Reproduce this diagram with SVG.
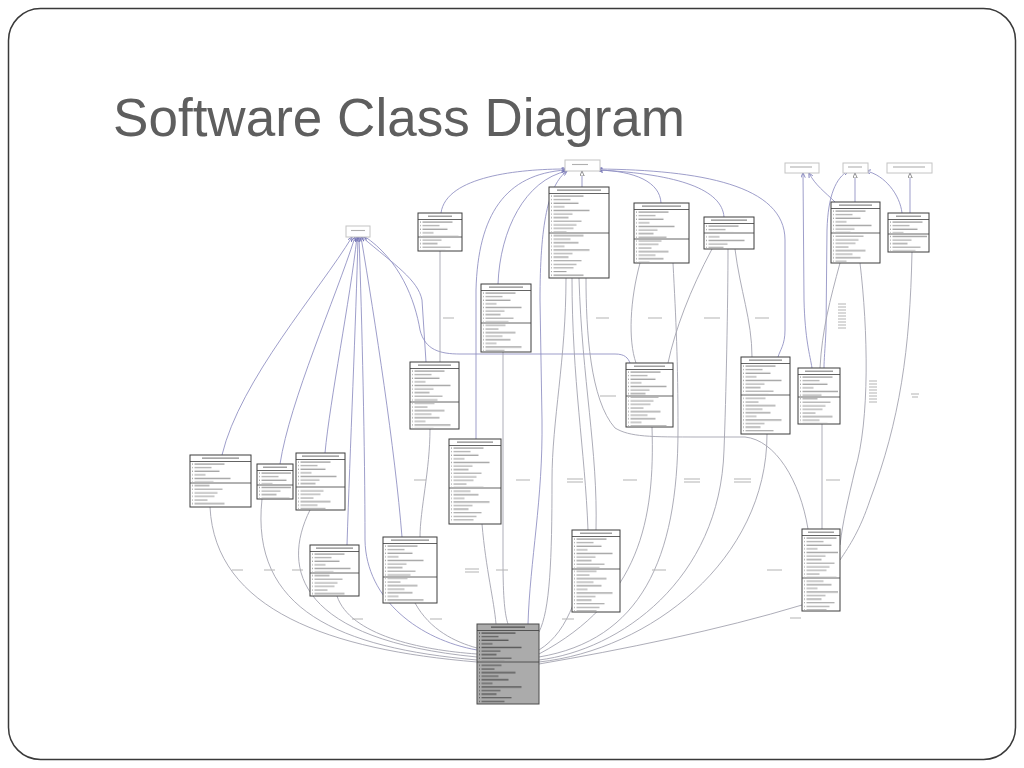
<svg xmlns="http://www.w3.org/2000/svg" width="1024" height="768" viewBox="0 0 1024 768">
<defs>
<style>
.frame{fill:#fff;stroke:#3a3a3a;stroke-width:1.5}
.title{font-family:"Liberation Sans","Open Sans",sans-serif;font-size:54px;fill:#5e5e5e}
.box{fill:#fff;stroke:#3c3c3c;stroke-width:1}
.mainbox{fill:#ababab;stroke:#4a4a4a;stroke-width:1}
.sep{fill:none;stroke:#3c3c3c;stroke-width:0.8}
.hd{fill:none;stroke:#8a8a8a;stroke-width:1.2}
.hdd{fill:none;stroke:#505050;stroke-width:1.2}
.node{fill:#fff;stroke:#c4c4c4;stroke-width:1}
.nodet{fill:none;stroke:#b0b0b0;stroke-width:1.1}
.c{fill:none;stroke:#a4a4b0;stroke-width:0.9}
.cb{fill:none;stroke:#8c8cc0;stroke-width:0.85}
.lbl{fill:none;stroke:#b4b4b4;stroke-width:1.2}
</style>
<pattern id="tx" patternUnits="userSpaceOnUse" width="80" height="39.6">
<path d="M1,1.8h2m1.5,0h20M1,5.4h2m1.5,0h13M1,9h2m1.5,0h30M1,12.6h2m1.5,0h17M1,16.2h2m1.5,0h25M1,19.8h2m1.5,0h11M1,23.4h2m1.5,0h36M1,27h2m1.5,0h19M1,30.6h2m1.5,0h15M1,34.2h2m1.5,0h28M1,37.8h2m1.5,0h23" fill="none" stroke="#979797" stroke-width="1.1"/>
</pattern>
<pattern id="txd" patternUnits="userSpaceOnUse" width="80" height="39.6">
<path d="M1,1.8h2m1.5,0h20M1,5.4h2m1.5,0h13M1,9h2m1.5,0h34M1,12.6h2m1.5,0h17M1,16.2h2m1.5,0h27M1,19.8h2m1.5,0h11M1,23.4h2m1.5,0h40M1,27h2m1.5,0h19M1,30.6h2m1.5,0h15M1,34.2h2m1.5,0h30M1,37.8h2m1.5,0h23" fill="none" stroke="#4c4c4c" stroke-width="1.1"/>
</pattern>
<marker id="ar" viewBox="0 0 8 8" refX="7.5" refY="4" markerWidth="5" markerHeight="5" orient="auto-start-reverse" markerUnits="userSpaceOnUse">
<path d="M0,0.5 L8,4 L0,7.5" fill="none" stroke="#6a6ab0" stroke-width="1.2"/>
</marker>
<marker id="tri" viewBox="0 0 8 8" refX="8" refY="4" markerWidth="5" markerHeight="5" orient="auto-start-reverse" markerUnits="userSpaceOnUse">
<path d="M0,0.5 L8,4 L0,7.5 Z" fill="#fff" stroke="#555" stroke-width="1"/>
</marker>
</defs>

<rect class="frame" x="8.5" y="8.5" width="1007" height="751" rx="32"/>
<text class="title" x="113" y="136" textLength="572" lengthAdjust="spacingAndGlyphs">Software Class Diagram</text>

<g id="connectors">
<path class="cb" marker-start="url(#ar)" d="M566,169 C520,169 446,176 441,213"/>
<path class="cb" marker-start="url(#ar)" d="M566,170 C505,174 478,215 476,290 L476,439"/>
<path class="cb" marker-start="url(#ar)" d="M567,171 C525,180 500,230 498,284"/>
<path class="cb" marker-start="url(#ar)" d="M567,171 C548,185 540,225 540,300 L542,420 C543,500 530,560 528,624"/>
<path class="cb" marker-start="url(#tri)" d="M582,171 L582,187"/>
<path class="cb" marker-start="url(#ar)" d="M598,170 C635,171 660,182 661,203"/>
<path class="cb" marker-start="url(#ar)" d="M598,170 C680,174 722,190 724,217"/>
<path class="cb" marker-start="url(#ar)" d="M598,169 C700,170 785,185 785,240 L785,330 C785,345 780,350 778,357"/>
<path class="cb" marker-start="url(#ar)" d="M352,237 C320,290 240,380 222,455"/>
<path class="cb" marker-start="url(#ar)" d="M355,237 C335,300 290,400 280,464"/>
<path class="cb" marker-start="url(#ar)" d="M357,237 C350,300 330,400 325,453"/>
<path class="cb" marker-start="url(#ar)" d="M358,237 C356,320 350,450 347,545"/>
<path class="cb" marker-start="url(#ar)" d="M359,237 C362,320 365,450 365,540 C366,600 420,640 477,650"/>
<path class="cb" marker-start="url(#ar)" d="M361,237 C375,320 395,450 402,537"/>
<path class="cb" marker-start="url(#ar)" d="M362,237 C395,265 418,280 422,300 L426,362"/>
<path class="cb" marker-start="url(#ar)" d="M364,236 C400,260 415,300 420,330 C425,350 440,354 460,354 L615,354 C625,354 628,358 630,363"/>
<path class="cb" marker-start="url(#ar)" d="M803,173 L804,300 C805,340 810,355 812,368"/>
<path class="cb" marker-start="url(#ar)" d="M809,173 C815,185 825,192 835,202"/>
<path class="cb" marker-start="url(#tri)" d="M855,173 L855,202"/>
<path class="cb" marker-start="url(#ar)" d="M848,171 C836,178 828,195 827,230 L826,330 C825,350 824,360 824,368"/>
<path class="cb" marker-start="url(#ar)" d="M866,171 C885,175 900,195 902,213"/>
<path class="cb" marker-start="url(#tri)" d="M910,173 L910,213"/>
<path class="c" d="M440,251 L440,362"/>
<path class="c" d="M430,429 C430,470 420,510 420,537"/>
<path class="c" d="M503,352 L503,560 C503,600 505,615 508,624"/>
<path class="c" d="M482,524 C486,570 494,600 496,624"/>
<path class="c" d="M566,278 C566,360 552,420 552,480 C552,560 550,610 539,632"/>
<path class="c" d="M572,278 C572,380 585,450 588,530"/>
<path class="c" d="M579,278 C582,380 598,450 596,530"/>
<path class="c" d="M586,278 C586,330 590,400 615,428 C630,437 650,437 700,437 L745,437 C775,440 800,480 808,529"/>
<path class="c" d="M640,263 C630,300 628,340 636,363"/>
<path class="c" d="M712,249 C690,290 675,330 668,363"/>
<path class="c" d="M735,249 C740,290 752,320 752,357"/>
<path class="c" d="M822,424 L822,529"/>
<path class="c" d="M840,263 C830,300 822,330 820,368"/>
<path class="c" d="M860,263 C868,330 870,420 855,470 C848,500 843,520 840,545"/>
<path class="c" d="M912,252 C910,350 900,420 870,500 C860,530 850,545 840,560"/>
<path class="c" d="M210,507 C215,610 330,650 477,662"/>
<path class="c" d="M262,499 C250,610 340,648 477,660"/>
<path class="c" d="M310,510 C280,570 300,640 477,657"/>
<path class="c" d="M337,596 C350,635 420,650 477,654"/>
<path class="c" d="M415,603 C430,630 455,642 477,648"/>
<path class="c" d="M573,605 C565,625 555,640 539,650"/>
<path class="c" d="M652,427 C655,520 640,600 539,654"/>
<path class="c" d="M673,263 C676,320 678,360 678,430 C678,560 640,640 539,657"/>
<path class="c" d="M728,249 C728,300 726,400 724,450 C720,580 620,650 539,660"/>
<path class="c" d="M767,434 C767,560 650,650 539,662"/>
<path class="c" d="M802,605 C720,630 620,650 539,664"/>
<path class="lbl" d="M443,318h11M596,318h13M648,318h14M704,318h16M755,318h14M600,396h16M838,304h8M838,307h8M838,310h8M838,313h8M838,316h8M838,319h8M838,322h8M838,325h8M838,328h8M869,381h8M869,384h8M869,387h8M869,390h8M869,393h8M869,396h8M869,399h8M869,402h8M911,394h8M912,397h6M414,480h12M516,480h14M567,479h16M567,482h16M232,570h11M264,570h11M292,570h11M465,569h14M465,572h14M496,570h12M352,619h11M430,619h12M562,619h12M623,480h14M684,479h16M684,482h16M734,479h17M734,482h17M826,480h14M652,570h14M767,570h15M790,618h11"/>
</g>

<g id="N0"><rect class="node" x="565" y="160" width="35" height="11"/><path class="nodet" d="M572,164.5h16"/></g>
<g id="N1"><rect class="node" x="346" y="226" width="24" height="11"/><path class="nodet" d="M351,230.5h14"/></g>
<g id="N2"><rect class="node" x="785" y="163" width="34" height="10"/><path class="nodet" d="M790,167h22"/></g>
<g id="N3"><rect class="node" x="843" y="163" width="25" height="10"/><path class="nodet" d="M848,167h14"/></g>
<g id="N4"><rect class="node" x="887" y="163" width="45" height="10"/><path class="nodet" d="M893,167h32"/></g>

<g id="A" transform="translate(418,213)"><rect class="box" width="44" height="38"/><path class="hd" d="M10,3.2h24"/><path class="sep" d="M0,6.5h44M0,24h44"/><rect x="2" y="7.5" width="40" height="15.5" fill="url(#tx)"/><rect x="2" y="25" width="40" height="12" fill="url(#tx)"/></g>
<g id="B" transform="translate(549,187)"><rect class="box" width="60" height="91"/><path class="hd" d="M8,3.2h44"/><path class="sep" d="M0,6.5h60M0,46h60"/><rect x="2" y="7.5" width="56" height="37.5" fill="url(#tx)"/><rect x="2" y="47" width="56" height="43" fill="url(#tx)"/></g>
<g id="C" transform="translate(634,203)"><rect class="box" width="55" height="60"/><path class="hd" d="M8,3.2h39"/><path class="sep" d="M0,6.5h55M0,36h55"/><rect x="2" y="7.5" width="51" height="27.5" fill="url(#tx)"/><rect x="2" y="37" width="51" height="22" fill="url(#tx)"/></g>
<g id="D" transform="translate(704,217)"><rect class="box" width="50" height="32"/><path class="hd" d="M7,3.2h36"/><path class="sep" d="M0,6.5h50M0,16h50"/><rect x="2" y="7.5" width="46" height="7.5" fill="url(#tx)"/><rect x="2" y="17" width="46" height="14" fill="url(#tx)"/></g>
<g id="E" transform="translate(831,202)"><rect class="box" width="49" height="61"/><path class="hd" d="M8,3.2h33"/><path class="sep" d="M0,6.5h49M0,31h49"/><rect x="2" y="7.5" width="45" height="22.5" fill="url(#tx)"/><rect x="2" y="32" width="45" height="28" fill="url(#tx)"/></g>
<g id="F" transform="translate(888,213)"><rect class="box" width="41" height="39"/><path class="hd" d="M8,3.2h25"/><path class="sep" d="M0,6.5h41M0,21h41"/><rect x="2" y="7.5" width="37" height="12.5" fill="url(#tx)"/><rect x="2" y="22" width="37" height="16" fill="url(#tx)"/></g>
<g id="G" transform="translate(481,284)"><rect class="box" width="50" height="68"/><path class="hd" d="M8,3.2h34"/><path class="sep" d="M0,6.5h50M0,39h50"/><rect x="2" y="7.5" width="46" height="30.5" fill="url(#tx)"/><rect x="2" y="40" width="46" height="27" fill="url(#tx)"/></g>
<g id="H" transform="translate(410,362)"><rect class="box" width="49" height="67"/><path class="hd" d="M8,3.2h33"/><path class="sep" d="M0,6.5h49M0,40h49"/><rect x="2" y="7.5" width="45" height="31.5" fill="url(#tx)"/><rect x="2" y="41" width="45" height="25" fill="url(#tx)"/></g>
<g id="I" transform="translate(626,363)"><rect class="box" width="47" height="64"/><path class="hd" d="M8,3.2h31"/><path class="sep" d="M0,6.5h47M0,33h47"/><rect x="2" y="7.5" width="43" height="24.5" fill="url(#tx)"/><rect x="2" y="34" width="43" height="29" fill="url(#tx)"/></g>
<g id="J" transform="translate(741,357)"><rect class="box" width="49" height="77"/><path class="hd" d="M8,3.2h33"/><path class="sep" d="M0,6.5h49M0,38h49"/><rect x="2" y="7.5" width="45" height="29.5" fill="url(#tx)"/><rect x="2" y="39" width="45" height="37" fill="url(#tx)"/></g>
<g id="K" transform="translate(798,368)"><rect class="box" width="42" height="56"/><path class="hd" d="M7,3.2h28"/><path class="sep" d="M0,6.5h42M0,29h42"/><rect x="2" y="7.5" width="38" height="20.5" fill="url(#tx)"/><rect x="2" y="30" width="38" height="25" fill="url(#tx)"/></g>
<g id="L" transform="translate(190,455)"><rect class="box" width="61" height="52"/><path class="hd" d="M12,3.2h37"/><path class="sep" d="M0,6.5h61M0,28h61"/><rect x="2" y="7.5" width="57" height="19.5" fill="url(#tx)"/><rect x="2" y="29" width="57" height="22" fill="url(#tx)"/></g>
<g id="M" transform="translate(257,464)"><rect class="box" width="36" height="35"/><path class="hd" d="M6,3.2h24"/><path class="sep" d="M0,6.5h36M0,21h36"/><rect x="2" y="7.5" width="32" height="12.5" fill="url(#tx)"/><rect x="2" y="22" width="32" height="12" fill="url(#tx)"/></g>
<g id="N" transform="translate(296,453)"><rect class="box" width="49" height="57"/><path class="hd" d="M6,3.2h37"/><path class="sep" d="M0,6.5h49M0,34h49"/><rect x="2" y="7.5" width="45" height="25.5" fill="url(#tx)"/><rect x="2" y="35" width="45" height="21" fill="url(#tx)"/></g>
<g id="O" transform="translate(449,439)"><rect class="box" width="52" height="85"/><path class="hd" d="M8,3.2h36"/><path class="sep" d="M0,6.5h52M0,49h52"/><rect x="2" y="7.5" width="48" height="40.5" fill="url(#tx)"/><rect x="2" y="50" width="48" height="34" fill="url(#tx)"/></g>
<g id="P" transform="translate(310,545)"><rect class="box" width="49" height="51"/><path class="hd" d="M6,3.2h37"/><path class="sep" d="M0,6.5h49M0,28h49"/><rect x="2" y="7.5" width="45" height="19.5" fill="url(#tx)"/><rect x="2" y="29" width="45" height="21" fill="url(#tx)"/></g>
<g id="Q" transform="translate(383,537)"><rect class="box" width="54" height="66"/><path class="hd" d="M8,3.2h38"/><path class="sep" d="M0,6.5h54M0,40h54"/><rect x="2" y="7.5" width="50" height="31.5" fill="url(#tx)"/><rect x="2" y="41" width="50" height="24" fill="url(#tx)"/></g>
<g id="R" transform="translate(477,624)"><rect class="mainbox" width="62" height="80"/><path class="hdd" d="M14,3.2h34"/><path class="sep" d="M0,6.5h62M0,38h62"/><rect x="2" y="7.5" width="58" height="29.5" fill="url(#txd)"/><rect x="2" y="39" width="58" height="40" fill="url(#txd)"/></g>
<g id="S" transform="translate(572,530)"><rect class="box" width="48" height="82"/><path class="hd" d="M8,3.2h32"/><path class="sep" d="M0,6.5h48M0,39h48"/><rect x="2" y="7.5" width="44" height="30.5" fill="url(#tx)"/><rect x="2" y="40" width="44" height="41" fill="url(#tx)"/></g>
<g id="T" transform="translate(802,529)"><rect class="box" width="38" height="82"/><path class="hd" d="M6,3.2h26"/><path class="sep" d="M0,6.5h38M0,49h38"/><rect x="2" y="7.5" width="34" height="40.5" fill="url(#tx)"/><rect x="2" y="50" width="34" height="31" fill="url(#tx)"/></g>
</svg>
